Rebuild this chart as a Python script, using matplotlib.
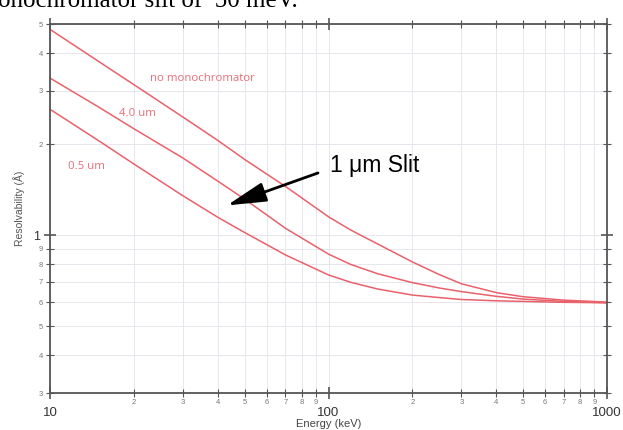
import matplotlib
matplotlib.use("Agg")
import matplotlib.pyplot as plt

# ---- data ----
energy = [10, 15, 20, 30, 40, 50, 70, 100, 120, 150, 200, 250, 300, 400, 500, 700, 1000]
no_mono = [4.80, 3.75, 3.15, 2.46, 2.06, 1.78, 1.45, 1.15, 1.04, 0.935, 0.815, 0.74,
           0.69, 0.645, 0.625, 0.609, 0.600]
slit_4um = [3.31, 2.65, 2.25, 1.80, 1.51, 1.315, 1.054, 0.865, 0.80, 0.745, 0.696, 0.668,
            0.65, 0.627, 0.614, 0.603, 0.597]
slit_05um = [2.61, 2.05, 1.72, 1.35, 1.146, 1.02, 0.86, 0.738, 0.698, 0.663, 0.633, 0.621,
             0.612, 0.606, 0.603, 0.599, 0.597]

x_major = [10, 100, 1000]
x_major_labels = ["10", "100", "1000"]
x_minor = [20, 30, 40, 50, 60, 70, 80, 90, 200, 300, 400, 500, 600, 700, 800, 900]
x_minor_labels = ["2", "3", "4", "5", "6", "7", "8", "9"] * 2
y_major = [1]
y_major_labels = ["1"]
y_minor = [0.3, 0.4, 0.5, 0.6, 0.7, 0.8, 0.9, 2, 3, 4, 5]
y_minor_labels = ["3", "4", "5", "6", "7", "8", "9", "2", "3", "4", "5"]

red = "#e8616b"
label_red = "#ea6d77"
grid_c = "#e6e6ec"
spine_c = "#555555"

fig = plt.figure(figsize=(6.23, 4.30), dpi=100)
W, H = 623, 430
ax = fig.add_axes([50 / W, (H - 393) / H, 557 / W, 369 / H])
ax.set_xscale("log")
ax.set_yscale("log")
ax.set_xlim(10, 1000)
ax.set_ylim(0.3, 5)

for x in x_major + x_minor:
    ax.axvline(x, color=grid_c, lw=0.7, zorder=0)
for y in y_major + y_minor:
    ax.axhline(y, color=grid_c, lw=0.7, zorder=0)

ax.plot(energy, no_mono, color=red, lw=1.1)
ax.plot(energy, slit_4um, color=red, lw=1.1)
ax.plot(energy, slit_05um, color=red, lw=1.1)

ax.set_xticks(x_major)
ax.set_xticklabels(x_major_labels)
ax.set_xticks(x_minor, minor=True)
ax.set_xticklabels(x_minor_labels, minor=True)
ax.set_yticks(y_major)
ax.set_yticklabels(y_major_labels)
ax.set_yticks(y_minor, minor=True)
ax.set_yticklabels(y_minor_labels, minor=True)

ax.tick_params(which="both", direction="inout", color=spine_c, top=True, right=True)
ax.tick_params(axis="x", which="major", length=8, width=1.2, pad=6, labelsize=9.5,
               labelcolor="#333333")
ax.tick_params(axis="x", which="minor", length=6, width=0.8, pad=1, labelsize=5.5,
               labelcolor="#777777")
ax.tick_params(axis="y", which="major", length=8, width=1.2, pad=3, labelsize=9,
               labelcolor="#333333")
ax.tick_params(axis="y", which="minor", length=6, width=0.8, pad=2, labelsize=5.5,
               labelcolor="#777777")
for lab in ax.get_xticklabels() + ax.get_xticklabels(minor=True) + \
        ax.get_yticklabels() + ax.get_yticklabels(minor=True):
    lab.set_family("Liberation Sans")

for s in ax.spines.values():
    s.set_color(spine_c)
    s.set_linewidth(1.3)

ax.set_xlabel("Energy (keV)", fontsize=8, family="Liberation Sans", color="#444444",
              labelpad=0)
ax.set_ylabel("Resolvability (Å)", fontsize=7.5, family="Liberation Sans", color="#555555",
              labelpad=6)

ax.text(22.9, 3.29, "no monochromator", color=label_red, fontsize=8.2, family="Open Sans",
        va="center", ha="left")
ax.text(17.7, 2.53, "4.0 um", color=label_red, fontsize=8.2, family="Open Sans",
        va="center", ha="left")
ax.text(11.6, 1.69, "0.5 um", color=label_red, fontsize=8.2, family="Open Sans",
        va="center", ha="left")

ax.annotate("", xy=(43.2, 1.254), xytext=(91.7, 1.606),
            arrowprops=dict(arrowstyle="-|>,head_length=1.2,head_width=0.3",
                            mutation_scale=20, color="black", lw=2.0,
                            shrinkA=0, shrinkB=0))
ax.text(101, 1.705, "1 μm Slit", fontsize=16.5, family="Liberation Sans",
        va="center", ha="left", color="black")

fig.text(-2 / W, 1 - 7 / H, "onochromator slit of  50 meV.", fontsize=18,
         family="Liberation Serif", va="baseline", ha="left", color="black")

fig.savefig("out.png", dpi=100)
